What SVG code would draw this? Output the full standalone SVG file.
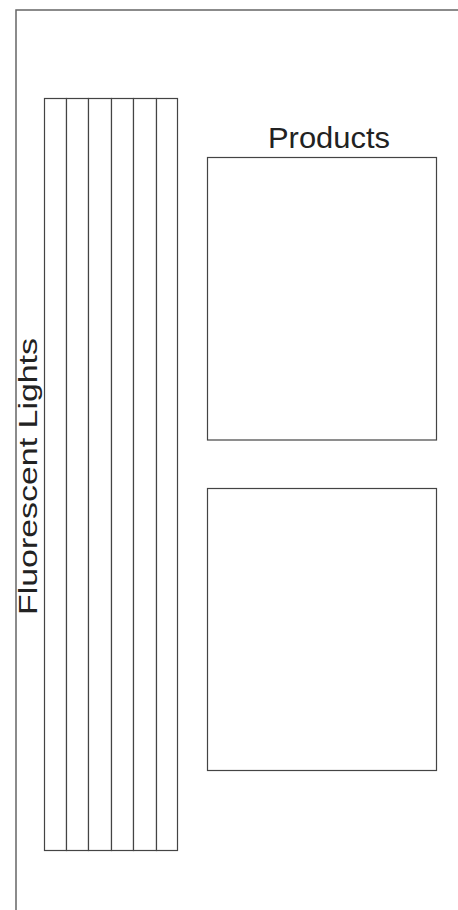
<svg xmlns="http://www.w3.org/2000/svg" width="458" height="910" viewBox="0 0 458 910">
<style>
.frame{fill:none;stroke:#666;stroke-width:1.5}
.tube{fill:#fff;stroke:#444;stroke-width:1.2}
.box{fill:#fff;stroke:#444;stroke-width:1.2}
.lbl{font-family:"Liberation Sans",Arial,sans-serif;fill:#222}
</style>
<rect width="458" height="910" fill="#fff"/>
<path class="frame" d="M16,910 V10 H458"/>
<g id="lights">
<rect class="tube" x="44.5" y="98.5" width="22" height="752"/>
<rect class="tube" x="66.5" y="98.5" width="22" height="752"/>
<rect class="tube" x="88.5" y="98.5" width="23" height="752"/>
<rect class="tube" x="111.5" y="98.5" width="22" height="752"/>
<rect class="tube" x="133.5" y="98.5" width="23" height="752"/>
<rect class="tube" x="156.5" y="98.5" width="21" height="752"/>
<text class="lbl" font-size="25" transform="translate(37,615) rotate(-90)" textLength="277" lengthAdjust="spacingAndGlyphs">Fluorescent Lights</text>
</g>
<g id="products-top">
<rect class="box" x="207.5" y="157.5" width="229" height="282.5"/>
<text class="lbl" font-size="29" x="268" y="148" textLength="122" lengthAdjust="spacingAndGlyphs">Products</text>
</g>
<g id="products-bottom">
<rect class="box" x="207.5" y="488.5" width="229" height="282"/>
</g>
<g id="connectors"></g>
</svg>
